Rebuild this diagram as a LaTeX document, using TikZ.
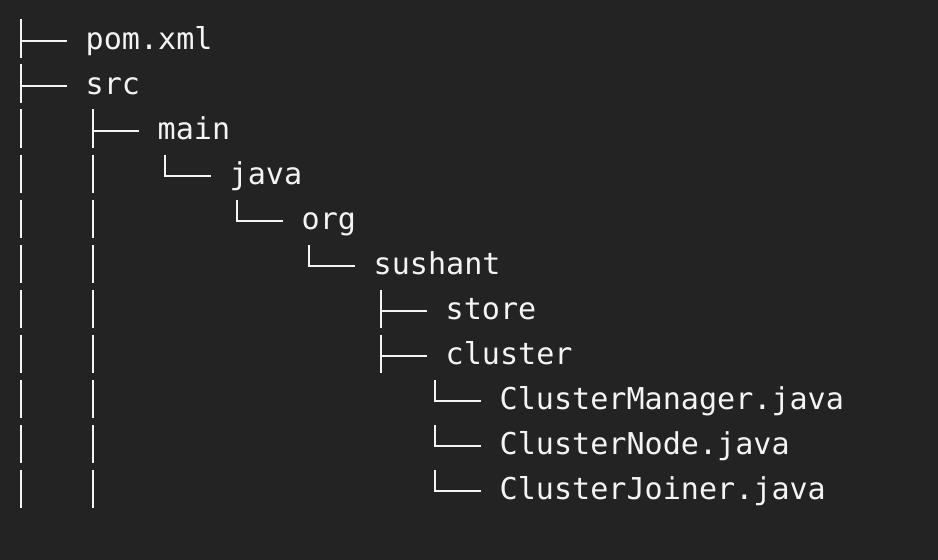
\documentclass[tikz,border=0pt]{standalone}
\usepackage{fontspec}
\setmonofont{DejaVu Sans Mono}
\usetikzlibrary{backgrounds}
\definecolor{termbg}{HTML}{232323}
\definecolor{termfg}{HTML}{F4F4F4}
% grid of the listing, in px
\newcommand{\colx}[1]{21+18*#1}
\newcommand{\rowy}[1]{40.7+45.07*#1}
\newcommand{\textx}[1]{13.5+18*#1}
\newcommand{\basey}[1]{49.2+45.07*#1}
% branch glyphs
\newcommand{\pipe}[2]{\draw[branch] ({\colx{#1}},{\rowy{#2}-21.4}) -- ++(0,38.4);}
\newcommand{\tee}[2]{\pipe{#1}{#2}\draw[branch] ({\colx{#1}},{\rowy{#2}}) -- ++(45.5,0);}
\newcommand{\elbow}[2]{\draw[branch] ({\colx{#1}},{\rowy{#2}-21.4}) |- ++(45.5,21.4);}

\begin{document}
\begin{tikzpicture}
	[x=1pt,y=-1pt,
	entry/.style={text=termfg,anchor=base west,inner sep=0pt,
		font=\fontsize{30.1pt}{36pt}\selectfont\ttfamily},
	branch/.style={draw=termfg,line width=2pt}]
	\fill[termbg] (0,0) rectangle (938,560);
	% entries
	\node[entry] (pom) at ({\textx{4}},{\basey{0}}) {pom.xml};
	\node[entry] (src) at ({\textx{4}},{\basey{1}}) {src};
	\node[entry] (main) at ({\textx{8}},{\basey{2}}) {main};
	\node[entry] (java) at ({\textx{12}},{\basey{3}}) {java};
	\node[entry] (org) at ({\textx{16}},{\basey{4}}) {org};
	\node[entry] (sushant) at ({\textx{20}},{\basey{5}}) {sushant};
	\node[entry] (store) at ({\textx{24}},{\basey{6}}) {store};
	\node[entry] (cluster) at ({\textx{24}},{\basey{7}}) {cluster};
	\node[entry] (manager) at ({\textx{27}},{\basey{8}}) {ClusterManager.java};
	\node[entry] (cnode) at ({\textx{27}},{\basey{9}}) {ClusterNode.java};
	\node[entry] (joiner) at ({\textx{27}},{\basey{10}}) {ClusterJoiner.java};
	% tree lines
	\foreach \r in {2,...,10} {\pipe{0}{\r}}
	\foreach \r in {3,...,10} {\pipe{4}{\r}}
	\tee{0}{0} \tee{0}{1} \tee{4}{2}
	\elbow{8}{3} \elbow{12}{4} \elbow{16}{5}
	\tee{20}{6} \tee{20}{7}
	\elbow{23}{8} \elbow{23}{9} \elbow{23}{10}
\end{tikzpicture}
\end{document}
